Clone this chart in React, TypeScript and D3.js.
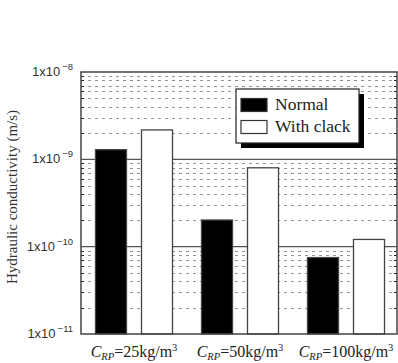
import { useRef, useEffect } from 'react';
import * as d3 from 'd3';

const categories = ['25', '50', '100'];
const series = ['Normal', 'With clack'];
const normalValues = [1.29e-9, 2.02e-10, 7.5e-11];
const crackValues = [2.17e-9, 8.0e-10, 1.21e-10];
const decadeExponents = [-8, -9, -10, -11];
const seriesFill = ['#000000', '#ffffff'];

const W = 398;
const H = 363;
const SERIF = "'Liberation Serif', 'Times New Roman', Times, serif";
const SANS = "'Liberation Sans', Arial, Helvetica, sans-serif";

export default function App() {
  const svgRef = useRef<SVGSVGElement>(null);

  useEffect(() => {
    if (!svgRef.current) return;
    const svg = d3.select(svgRef.current);
    svg.selectAll('*').remove();

    const left = 81;
    const right = 397;
    const top = 72;
    const bottom = 334;

    const y = d3.scaleLog().domain([1e-11, 1e-8]).range([bottom, top]);
    const x = d3.scaleBand<string>().domain(categories).range([left, 399]).padding(0);
    const xs = d3
      .scaleBand<string>()
      .domain(series)
      .range([0, x.bandwidth()])
      .paddingInner(0.326)
      .paddingOuter(0.315);

    const lineColor = '#444';

    // minor grid (dotted)
    const minors: number[] = [];
    for (let e = -11; e < -8; e++) {
      for (let k = 2; k <= 9; k++) minors.push(k * Math.pow(10, e));
    }
    const g = svg.append('g');
    g.selectAll('line.minor')
      .data(minors)
      .join('line')
      .attr('x1', left)
      .attr('x2', right)
      .attr('y1', (d) => Math.round(y(d)) + 0.5)
      .attr('y2', (d) => Math.round(y(d)) + 0.5)
      .attr('stroke', '#777')
      .attr('stroke-width', 0.8)
      .attr('stroke-dasharray', '3,4');

    // minor ticks, both sides
    g.selectAll('line.tl')
      .data(minors)
      .join('line')
      .attr('x1', left)
      .attr('x2', left + 3)
      .attr('y1', (d) => Math.round(y(d)) + 0.5)
      .attr('y2', (d) => Math.round(y(d)) + 0.5)
      .attr('stroke', '#222');
    g.selectAll('line.tr')
      .data(minors)
      .join('line')
      .attr('class', 'tr')
      .attr('x1', right - 3)
      .attr('x2', right)
      .attr('y1', (d) => Math.round(y(d)) + 0.5)
      .attr('y2', (d) => Math.round(y(d)) + 0.5)
      .attr('stroke', '#222');

    // decade lines
    g.selectAll('line.major')
      .data(decadeExponents.slice(1, 3))
      .join('line')
      .attr('x1', left)
      .attr('x2', right)
      .attr('y1', (d) => y(Math.pow(10, d)))
      .attr('y2', (d) => y(Math.pow(10, d)))
      .attr('stroke', '#555')
      .attr('stroke-width', 1.2);

    // bars
    const rows = categories.flatMap((c, i) => [
      { c, s: series[0], v: normalValues[i], fill: seriesFill[0] },
      { c, s: series[1], v: crackValues[i], fill: seriesFill[1] },
    ]);
    svg
      .append('g')
      .selectAll('rect')
      .data(rows)
      .join('rect')
      .attr('x', (d) => (x(d.c) ?? 0) + (xs(d.s) ?? 0))
      .attr('width', xs.bandwidth())
      .attr('y', (d) => y(d.v))
      .attr('height', (d) => bottom - y(d.v))
      .attr('fill', (d) => d.fill)
      .attr('stroke', lineColor)
      .attr('stroke-width', 1.3);

    // frame
    svg
      .append('rect')
      .attr('x', left)
      .attr('y', top)
      .attr('width', right - left)
      .attr('height', bottom - top)
      .attr('fill', 'none')
      .attr('stroke', lineColor)
      .attr('stroke-width', 1.5);

    // y tick labels
    const yl = svg
      .append('g')
      .selectAll('text')
      .data(decadeExponents)
      .join('text')
      .attr('x', 73)
      .attr('y', (d) => y(Math.pow(10, d)) + 4)
      .attr('text-anchor', 'end')
      .style('font-family', SANS)
      .attr('font-size', 13)
      .attr('fill', '#333');
    yl.append('tspan').text('1x10');
    yl.append('tspan')
      .attr('dx', 2)
      .attr('dy', -6)
      .attr('font-size', 9.5)
      .text((d) => `\u2212${-d}`);

    // y title
    svg
      .append('text')
      .attr('transform', 'translate(17,197) rotate(-90)')
      .attr('text-anchor', 'middle')
      .style('font-family', SERIF)
      .attr('font-size', 15)
      .attr('fill', '#333')
      .text('Hydraulic conductivity (m/s)');

    // x labels
    const xl = svg
      .append('g')
      .selectAll('text')
      .data(categories)
      .join('text')
      .attr('x', (d) => (x(d) ?? 0) + x.bandwidth() / 2)
      .attr('y', 357)
      .attr('text-anchor', 'middle')
      .style('font-family', SERIF)
      .attr('font-size', 16)
      .attr('fill', '#222');
    xl.append('tspan').attr('font-style', 'italic').text('C');
    xl.append('tspan').attr('font-style', 'italic').attr('font-size', 10.5).attr('dy', 3).text('RP');
    xl.append('tspan').attr('dy', -3).text((d) => `=${d}kg/m`);
    xl.append('tspan').attr('font-size', 10.5).attr('dy', -6).text('3');

    // legend
    const lg = svg.append('g').attr('transform', 'translate(236,89)');
    lg.append('rect').attr('x', 5).attr('y', 5).attr('width', 123).attr('height', 54).attr('fill', '#000');
    lg.append('rect')
      .attr('width', 123)
      .attr('height', 54)
      .attr('fill', '#fff')
      .attr('stroke', '#222')
      .attr('stroke-width', 1.2);
    series.forEach((s, i) => {
      lg.append('rect')
        .attr('x', 5)
        .attr('y', 9.5 + i * 22)
        .attr('width', 26)
        .attr('height', 13)
        .attr('fill', seriesFill[i])
        .attr('stroke', '#333')
        .attr('stroke-width', 1.2);
      lg.append('text')
        .attr('x', 39)
        .attr('y', 21 + i * 22)
        .style('font-family', SERIF)
        .attr('font-size', 17.5)
        .attr('fill', '#222')
        .text(s);
    });
  }, []);

  return (
    <svg
      ref={svgRef}
      width={W}
      height={H}
      style={{ position: 'absolute', left: 0, top: 0, background: '#fff' }}
    />
  );
}
